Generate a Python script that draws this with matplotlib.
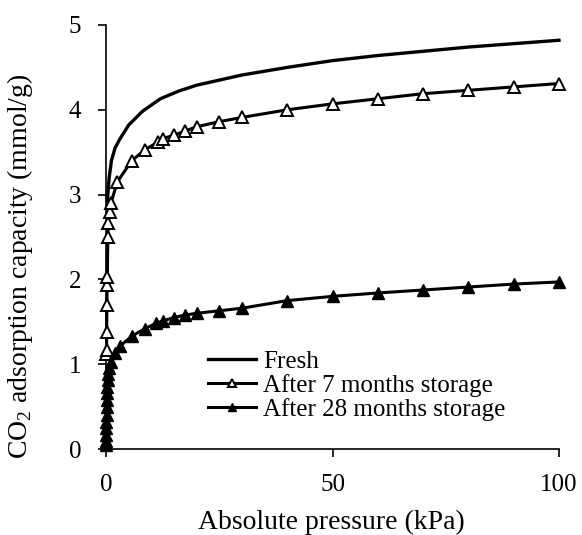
import matplotlib
matplotlib.use("Agg")
import matplotlib.pyplot as plt

plt.rcParams['font.family'] = ['Liberation Serif', 'DejaVu Serif']
plt.rcParams['mathtext.fontset'] = 'custom'
plt.rcParams['mathtext.rm'] = 'Liberation Serif'

# Data
p_fresh = [0.3, 0.7, 1.2, 2, 3, 5, 8, 12, 16, 20, 30, 40, 50, 60, 70, 80, 90, 100]
q_fresh = [2.93, 3.2, 3.4, 3.55, 3.65, 3.82, 3.98, 4.13, 4.22, 4.29, 4.41, 4.50, 4.58, 4.64, 4.69, 4.74, 4.78, 4.82]

p_7m = [0.1, 0.12, 0.15, 0.2, 0.25, 0.3, 0.4, 0.5, 0.8, 1.1, 2.5, 5.7, 8.6, 11.5, 12.5, 15, 17.5, 20, 25, 30, 40, 50, 60, 70, 80, 90, 100]
q_7m = [1.12, 1.17, 1.38, 1.70, 1.93, 2.03, 2.50, 2.67, 2.80, 2.90, 3.15, 3.40, 3.53, 3.62, 3.66, 3.70, 3.75, 3.80, 3.86, 3.91, 4.00, 4.07, 4.13, 4.19, 4.23, 4.27, 4.31]

p_28m = [0.02, 0.04, 0.06, 0.08, 0.1, 0.13, 0.16, 0.2, 0.25, 0.3, 0.4, 0.5, 0.7, 1.0, 2.0, 3.0, 5.7, 8.6, 11, 12.5, 15, 17.5, 20, 25, 30, 40, 50, 60, 70, 80, 90, 100]
q_28m = [0.05, 0.1, 0.17, 0.25, 0.32, 0.4, 0.5, 0.58, 0.66, 0.73, 0.81, 0.88, 0.95, 1.03, 1.13, 1.21, 1.33, 1.42, 1.48, 1.51, 1.55, 1.58, 1.60, 1.63, 1.66, 1.75, 1.80, 1.84, 1.875, 1.91, 1.945, 1.97]

labels = ["Fresh", "After 7 months storage", "After 28 months storage"]
x_ticks = [0, 50, 100]
y_ticks = [0, 1, 2, 3, 4, 5]

fig = plt.figure(figsize=(5.82, 5.35), dpi=100)
ax = fig.add_axes([106/582, 1-449/535, 453/582, 424/535])

ax.plot(p_fresh, q_fresh, color='black', lw=2.4, label=labels[0], clip_on=False, zorder=3)
ax.plot(p_7m, q_7m, color='black', lw=2.2, marker='^', ms=9, mfc='white', mec='black', mew=1.4,
        label=labels[1], clip_on=False, zorder=3)
ax.plot(p_28m, q_28m, color='black', lw=2.2, marker='^', ms=9, mfc='black', mec='black', mew=1.0,
        label=labels[2], clip_on=False, zorder=3)

ax.set_xlim(0, 100)
ax.set_ylim(0, 5)
ax.set_xticks(x_ticks)
ax.set_yticks(y_ticks)
for s in ['top', 'right']:
    ax.spines[s].set_visible(False)
for s in ['left', 'bottom']:
    ax.spines[s].set_linewidth(1.2)
ax.tick_params(axis='both', direction='out', length=6, width=1.2, labelsize=18, pad=12)

fig.text(331/582, 1-522/535, "Absolute pressure (kPa)", ha='center', va='center', fontsize=20)
fig.text(20/582, 1-266/535, "CO$_2$ adsorption capacity (mmol/g)", ha='center', va='center',
         rotation=90, fontsize=20)

leg = ax.legend(loc='upper left', bbox_to_anchor=(208/582, 1-350/535), bbox_transform=fig.transFigure,
                frameon=False, fontsize=18, handlelength=1.9, handletextpad=0.3, labelspacing=0.05,
                borderpad=0, borderaxespad=0, markerscale=0.7, numpoints=1)

fig.savefig("out.png", dpi=100)
